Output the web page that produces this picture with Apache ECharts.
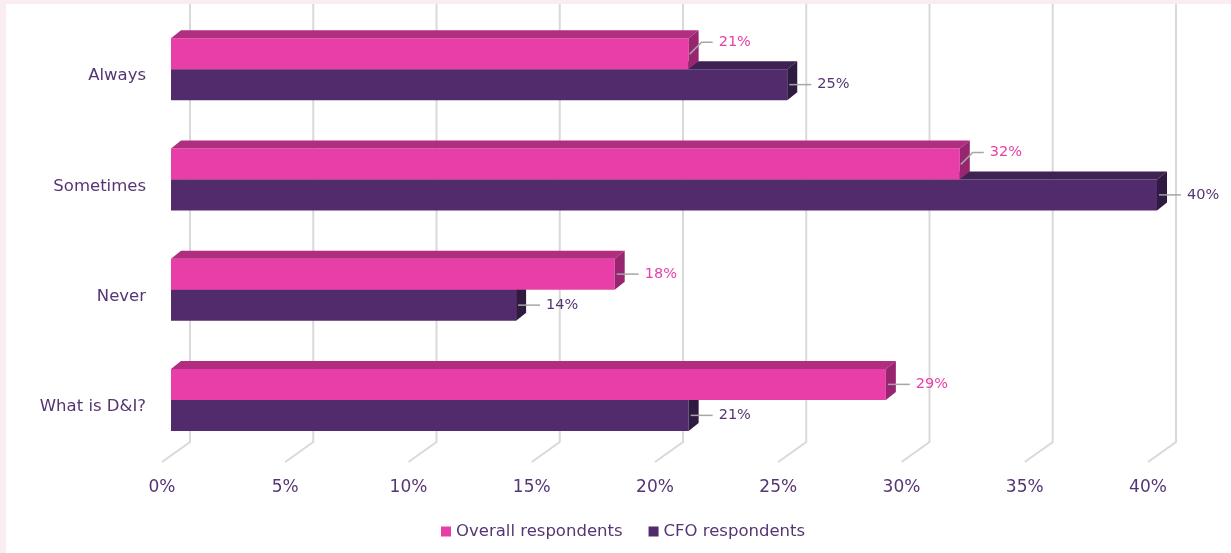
<!DOCTYPE html>
<html>
<head>
<meta charset="utf-8">
<script src="https://cdn.jsdelivr.net/npm/echarts@6/dist/echarts.min.js"></script>
<style>
  html, body { margin: 0; padding: 0; background: #f9edf3; }
  #chart { width: 1231px; height: 553px; }
</style>
</head>
<body>
<div id="chart"></div>
<script>
// answer options, top to bottom
const categories = ['Always', 'Sometimes', 'Never', 'What is D&I?'];
const overallValues = [21, 32, 18, 29];
const cfoValues = [25, 40, 14, 21];
const xTicks = [0, 5, 10, 15, 20, 25, 30, 35, 40];

const FONT = 'DejaVu Sans';
const TEXT_COLOR = '#563574';
const PINK = { front: '#e83ea8', top: '#b02d80', side: '#982570', label: '#e83ea8' };
const PURPLE = { front: '#512b6c', top: '#3d2253', side: '#2f1a41', label: '#563574' };

// 3d look: bars sit 9px in front of the floor edge, depth 10px right / 8px up
const BAR_SHIFT = 9, DEPTH_X = 10, DEPTH_Y = 8, BAR_H = 31, LIFT = 7;

const chart = echarts.init(document.getElementById('chart'));

function barItem(isOverall, values, others, colors) {
  return function (params, api) {
    const idx = api.value(1);
    const v = api.value(0);
    const end = api.coord([v, idx]);
    const start = api.coord([0, idx]);
    const x0 = start[0] + BAR_SHIFT;
    const x1 = end[0] + BAR_SHIFT;
    const mid = end[1] - LIFT;
    const y0 = isOverall ? mid - BAR_H : mid;
    const y1 = isOverall ? mid : mid + BAR_H;

    // label position
    let ly = (y0 + y1) / 2;
    let leader;
    if (isOverall && others[idx] > v) {
      ly = y0 + 4;
      leader = [[x1 + 1, ly + 12], [x1 + 13, ly], [x1 + 24, ly]];
    } else {
      leader = [[x1 + 2, ly], [x1 + 24, ly]];
    }

    return {
      type: 'group',
      children: [
        { type: 'rect', shape: { x: x0, y: y0, width: x1 - x0, height: y1 - y0 },
          style: { fill: colors.front } },
        { type: 'polygon', shape: { points: [[x0, y0], [x0 + DEPTH_X, y0 - DEPTH_Y], [x1 + DEPTH_X, y0 - DEPTH_Y], [x1, y0]] },
          style: { fill: colors.top } },
        { type: 'polygon', shape: { points: [[x1, y0], [x1 + DEPTH_X, y0 - DEPTH_Y], [x1 + DEPTH_X, y1 - DEPTH_Y], [x1, y1]] },
          style: { fill: colors.side } },
        { type: 'polyline', shape: { points: leader },
          style: { stroke: '#a6a6a6', lineWidth: 1.5, fill: null } },
        { type: 'text', x: x1 + 30, y: ly,
          style: { text: v + '%', fill: colors.label, font: '14.5px "' + FONT + '"', verticalAlign: 'middle', align: 'left' } }
      ]
    };
  };
}

function gridItem(params, api) {
  const v = api.value(0);
  const p = api.coord([v, 0]);
  const cs = params.coordSys;
  const bottom = cs.y + cs.height;
  return {
    type: 'polyline',
    shape: { points: [[p[0] + 28, 4], [p[0] + 28, bottom - 20], [p[0], bottom]] },
    style: { stroke: '#d9d9d9', lineWidth: 2, fill: null }
  };
}

chart.setOption({
  backgroundColor: '#f9edf3',
  textStyle: { fontFamily: FONT },
  graphic: [{
    type: 'rect', left: 6, top: 4, z: -10,
    shape: { width: 1225, height: 549 },
    style: { fill: '#ffffff' }
  }],
  grid: { left: 162, top: 21, width: 986, height: 441 },
  xAxis: {
    type: 'value', min: 0, max: 40, interval: 5,
    axisLine: { show: false }, axisTick: { show: false }, splitLine: { show: false },
    axisLabel: { formatter: '{value}%', color: TEXT_COLOR, fontSize: 17, margin: 17, fontFamily: FONT }
  },
  yAxis: {
    type: 'category', inverse: true, data: categories,
    axisLine: { show: false }, axisTick: { show: false },
    axisLabel: { color: TEXT_COLOR, fontSize: 16.5, margin: 16, fontFamily: FONT }
  },
  legend: {
    data: ['Overall respondents', 'CFO respondents'],
    left: 436, top: 518, icon: 'rect', itemWidth: 10, itemHeight: 10, itemGap: 26,
    textStyle: { color: TEXT_COLOR, fontSize: 16.5, fontFamily: FONT }
  },
  series: [
    {
      type: 'custom', name: 'grid', silent: true, z: 1, clip: false,
      renderItem: gridItem,
      data: xTicks.map(t => [t, 0])
    },
    {
      type: 'custom', name: 'CFO respondents', z: 2, clip: false,
      itemStyle: { color: PURPLE.front },
      renderItem: barItem(false, cfoValues, overallValues, PURPLE),
      encode: { x: 0, y: 1 },
      data: cfoValues.map((v, i) => [v, i])
    },
    {
      type: 'custom', name: 'Overall respondents', z: 3, clip: false,
      itemStyle: { color: PINK.front },
      renderItem: barItem(true, overallValues, cfoValues, PINK),
      encode: { x: 0, y: 1 },
      data: overallValues.map((v, i) => [v, i])
    }
  ]
});
</script>
</body>
</html>
